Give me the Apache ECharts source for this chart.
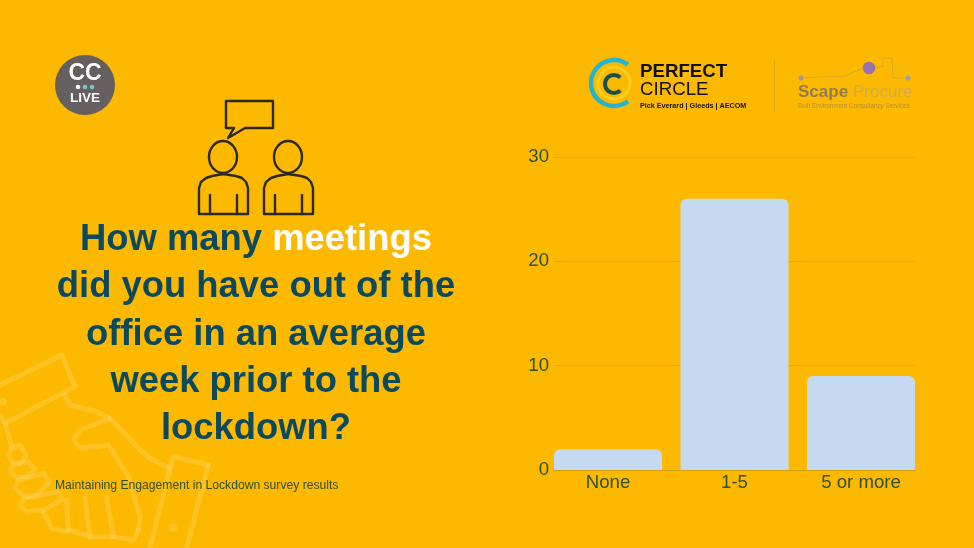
<!DOCTYPE html>
<html>
<head>
<meta charset="utf-8">
<style>html,body{margin:0;padding:0;background:#FDB900}#main{width:974px;height:548px}</style>
<script src="https://cdn.jsdelivr.net/npm/echarts@6/dist/echarts.min.js"></script>
</head>
<body>
<div id="main"></div>
<script>
var categories = ['None', '1-5', '5 or more'];
var answers = [2, 26, 9];
var yTicks = [0, 10, 20, 30];
var titleLines = ['{d|How many }{w|meetings}', '{d|did you have out of the}', '{d|office in an average}', '{d|week prior to the}', '{d|lockdown?}'];
var footNote = 'Maintaining Engagement in Lockdown survey results';

var myChart = echarts.init(document.getElementById('main'), null, { renderer: 'canvas' });
var FONT = '"Liberation Sans", Arial, sans-serif';
var ink = '#2b2a1c';
var wm = 'rgba(255,255,255,0.14)';
var sketch = 'rgba(150,140,130,0.35)';

function line(points, color, w) {
	return { type: 'polyline', shape: { points: points }, style: { fill: 'none', stroke: color, lineWidth: w, lineJoin: 'round', lineCap: 'round' }, silent: true };
}
// handshake outline, traced on a crop 3x at (0,340)
function hand(points) {
	return line(points.map(function (p) { return [p[0] / 3, 340 + p[1] / 3]; }), wm, 5);
}
function txt(x, y, s, size, color, weight, align) {
	return { type: 'text', x: x, y: y, style: { text: s, font: (weight || 'normal') + ' ' + size + 'px ' + FONT, fill: color, textAlign: align || 'left', textVerticalAlign: 'middle' }, silent: true };
}
function person(dx) {
	var body = [[199, 214], [199, 188], [201, 182], [206, 178], [212, 176], [223, 174], [236, 176], [242, 178], [246, 182], [248, 188], [248, 214], [199, 214]];
	return [
		{ type: 'ellipse', shape: { cx: 223 + dx, cy: 157, rx: 14, ry: 16 }, style: { fill: 'none', stroke: ink, lineWidth: 2.4 } },
		line(body.map(function (p) { return [p[0] + dx, p[1]]; }), ink, 2.4),
		line([[210 + dx, 195], [210 + dx, 214]], ink, 2.4),
		line([[237 + dx, 195], [237 + dx, 214]], ink, 2.4)
	];
}

var graphics = [
	// faint handshake in the corner
	hand([[0, 135], [185, 45], [225, 140], [15, 250], [0, 225]]),
	hand([[195, 165], [210, 195], [290, 215], [330, 235], [240, 270], [222, 298], [240, 325], [325, 315], [385, 410], [420, 530], [415, 570]]),
	hand([[330, 235], [420, 330], [450, 355], [510, 385]]),
	hand([[15, 250], [35, 320]]),
	hand([[35, 325], [60, 315], [80, 345], [60, 370], [40, 370], [25, 345], [35, 325]]),
	hand([[40, 375], [85, 365], [105, 390], [80, 410], [50, 412], [30, 395], [40, 375]]),
	hand([[55, 420], [130, 400], [148, 425], [110, 465], [75, 470], [45, 445], [55, 420]]),
	hand([[75, 475], [175, 455], [185, 480], [130, 510], [80, 515], [60, 495], [75, 475]]),
	hand([[130, 515], [155, 565], [195, 575], [205, 570], [200, 480]]),
	hand([[205, 570], [270, 590], [255, 470]]),
	hand([[270, 590], [340, 590], [320, 470]]),
	hand([[340, 590], [400, 600], [415, 570]]),
	hand([[625, 375], [520, 350], [450, 620]]),
	hand([[625, 375], [560, 624]]),
	{ type: 'circle', shape: { cx: 173, cy: 528, r: 4 }, style: { fill: wm } },
	{ type: 'circle', shape: { cx: 3, cy: 402, r: 4 }, style: { fill: wm } },

	// CC Live badge
	{ type: 'circle', shape: { cx: 85, cy: 85, r: 30 }, style: { fill: '#655f5f' } },
	txt(85, 74, 'CC', 23, '#fff', 'bold', 'center'),
	{ type: 'circle', shape: { cx: 78, cy: 87, r: 2.3 }, style: { fill: '#fff' } },
	{ type: 'circle', shape: { cx: 85, cy: 87, r: 2.3 }, style: { fill: '#7cc4c4' } },
	{ type: 'circle', shape: { cx: 92, cy: 87, r: 2.3 }, style: { fill: '#7cc4c4' } },
	txt(85, 98, 'LIVE', 13.5, '#fff', 'bold', 'center'),

	// speech bubble
	line([[226, 101], [273, 101], [273, 128], [245, 128], [228, 138], [234, 128], [226, 128], [226, 101]], ink, 2.4),

	// Perfect Circle logo
	{ type: 'circle', shape: { cx: 614, cy: 83, r: 16 }, style: { fill: 'none', stroke: '#f7cf1e', lineWidth: 3 } },
	{ type: 'arc', shape: { cx: 614, cy: 83, r: 23, startAngle: -0.92, endAngle: 0.92, clockwise: false }, style: { fill: 'none', stroke: '#25b3cf', lineWidth: 4.5 } },
	{ type: 'arc', shape: { cx: 614, cy: 84, r: 9, startAngle: -0.8, endAngle: 0.8, clockwise: false }, style: { fill: 'none', stroke: '#17504f', lineWidth: 4 } },
	txt(640, 72, 'PERFECT', 18.7, '#111', 'bold'),
	txt(640, 90, 'CIRCLE', 18.7, '#111', 'normal'),
	txt(640, 106, 'Pick Everard | Gleeds | AECOM', 7.2, '#111', 'bold'),
	{ type: 'rect', shape: { x: 774, y: 60, width: 1, height: 52 }, style: { fill: 'rgba(120,100,40,0.2)' } },

	// Scape Procure logo
	line([[801, 78], [845, 76], [863, 68]], sketch, 1),
	line([[876, 68], [883, 66], [883, 58], [892, 58], [893, 78], [908, 78]], sketch, 1),
	{ type: 'circle', shape: { cx: 801, cy: 78, r: 2.5 }, style: { fill: '#a79a9b' } },
	{ type: 'circle', shape: { cx: 908, cy: 78, r: 2.5 }, style: { fill: '#a79a9b' } },
	{ type: 'circle', shape: { cx: 869, cy: 68, r: 6.3 }, style: { fill: '#9a72b0' } },
	txt(798, 92, 'Scape', 17, '#8f7c55', 'bold'),
	txt(853, 92, 'Procure', 17, 'rgba(170,160,140,0.55)', 'normal'),
	txt(798, 106.5, 'Built Environment Consultancy Services', 6.3, 'rgba(140,125,100,0.7)', 'normal'),

	txt(55, 485.5, footNote, 12.15, '#2f4f2e', 'normal')
].concat(person(0), person(65));

titleLines.forEach(function (s, i) {
	graphics.push({
		type: 'text', x: 256, y: 240 + i * 47.3, silent: true,
		style: {
			text: s, textAlign: 'center', textVerticalAlign: 'middle',
			rich: {
				d: { font: 'bold 36.4px ' + FONT, fill: '#0b4a5e' },
				w: { font: 'bold 36.4px ' + FONT, fill: '#ffffff' }
			}
		}
	});
});

var axisText = { color: '#2f5030', fontSize: 18.6, fontFamily: FONT };
var faint = 'rgba(120,100,20,0.16)';

var option = {
	backgroundColor: '#FDB900',
	animation: false,
	// first grid carries the rules and y labels, second one is wider so the outer bars sit flush with the rule ends
	grid: [
		{ left: 554, top: 157, width: 361, height: 313 },
		{ left: 544.75, top: 157, width: 379.5, height: 313 }
	],
	xAxis: [
		{
			type: 'category', gridIndex: 0, data: categories,
			axisLine: { show: true, lineStyle: { color: faint, width: 1 } },
			axisTick: { show: false }, axisLabel: { show: false }
		},
		{
			type: 'category', gridIndex: 1, data: categories,
			axisLine: { show: false }, axisTick: { show: false },
			axisLabel: Object.assign({ margin: 3 }, axisText)
		}
	],
	yAxis: [
		{
			type: 'value', gridIndex: 0,
			min: yTicks[0], max: yTicks[yTicks.length - 1], interval: 10,
			axisLine: { show: false }, axisTick: { show: false },
			axisLabel: Object.assign({ margin: 5, padding: [3, 0, 0, 0] }, axisText),
			splitLine: { lineStyle: { color: faint, width: 1 } }
		},
		{
			type: 'value', gridIndex: 1,
			min: yTicks[0], max: yTicks[yTicks.length - 1], interval: 10,
			axisLine: { show: false }, axisTick: { show: false },
			axisLabel: { show: false }, splitLine: { show: false }
		}
	],
	series: [{
		type: 'bar',
		xAxisIndex: 1,
		yAxisIndex: 1,
		data: answers,
		barCategoryGap: '14.6%',
		itemStyle: { color: '#c5d9f1', borderRadius: [6, 6, 0, 0] }
	}],
	graphic: { elements: graphics }
};
myChart.setOption(option);
</script>
</body>
</html>
